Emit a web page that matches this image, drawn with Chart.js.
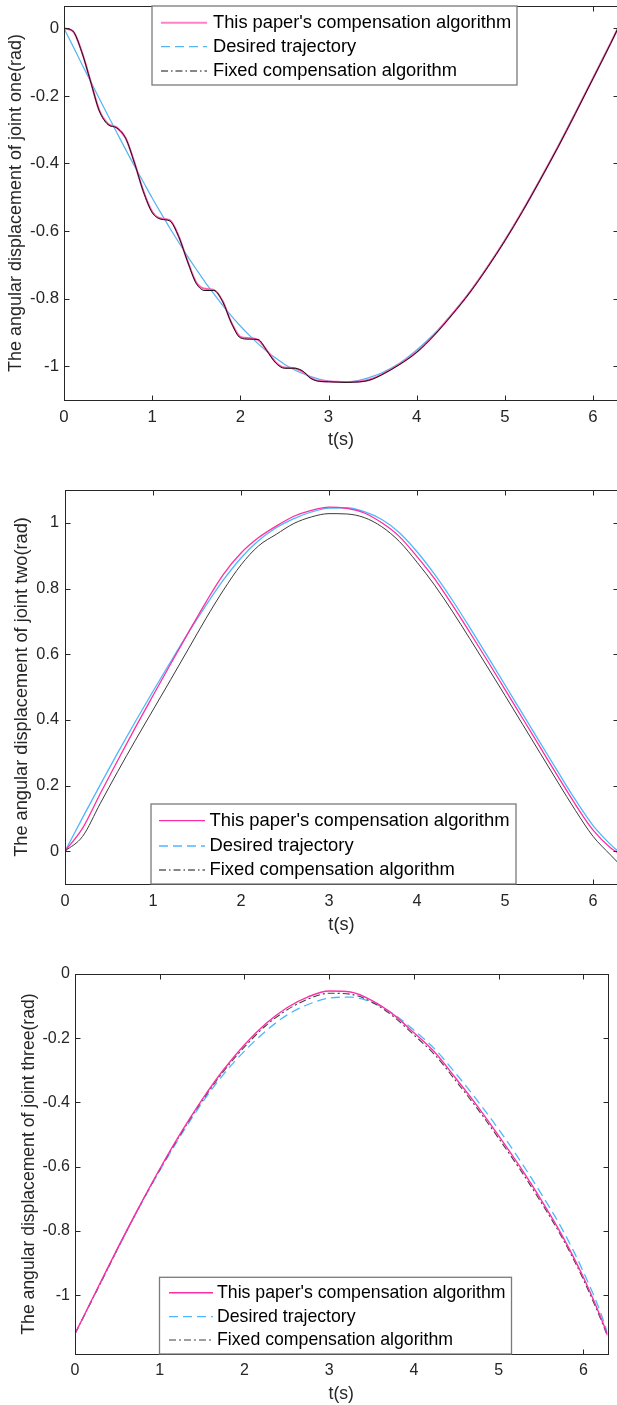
<!DOCTYPE html>
<html>
<head>
<meta charset="utf-8">
<script src="https://cdn.jsdelivr.net/npm/chart.js@4.4.1/dist/chart.umd.min.js"></script>
<style>
  html, body { margin: 0; padding: 0; background: #fff; overflow: hidden; }
  #wrap { position: relative; width: 617px; height: 1405px; overflow: hidden; }
  canvas { position: absolute; left: 0; }
</style>
</head>
<body>
<div id="wrap">
  <canvas id="c1" width="620" height="460" style="top:0px"></canvas>
  <canvas id="c2" width="620" height="470" style="top:470px"></canvas>
  <canvas id="c3" width="617" height="465" style="top:940px"></canvas>
</div>
<script>
// legend names
const seriesNames = ["This paper's compensation algorithm", 'Desired trajectory', 'Fixed compensation algorithm'];
const xTicks = [0, 1, 2, 3, 4, 5, 6];

// joint one
const t1 = [0, 0.1, 0.2, 0.3, 0.4, 0.5, 0.6, 0.7, 0.8, 0.9, 1.0, 1.1, 1.2, 1.3, 1.4, 1.5, 1.6, 1.7, 1.8, 1.9,
  2.0, 2.1, 2.2, 2.3, 2.4, 2.5, 2.6, 2.7, 2.8, 2.9, 3.0, 3.1, 3.2, 3.3, 3.4, 3.5, 3.6,
  3.8, 4.0, 4.2, 4.4, 4.6, 4.8, 5.0, 5.2, 5.4, 5.6, 5.8, 6.0, 6.2, 6.283];
const paper1 = [0, -0.008, -0.068, -0.155, -0.243, -0.283, -0.294, -0.325, -0.398, -0.482, -0.543, -0.563, -0.568, -0.615, -0.688, -0.752, -0.771, -0.774, -0.808, -0.872,
  -0.913, -0.917, -0.922, -0.953, -0.988, -1.004, -1.005, -1.015, -1.035, -1.044, -1.045, -1.046, -1.047, -1.046, -1.044, -1.037, -1.025,
  -0.995, -0.958, -0.907, -0.847, -0.782, -0.708, -0.628, -0.541, -0.448, -0.352, -0.251, -0.148, -0.044, 0];
const desired1 = [0, -0.052, -0.105, -0.156, -0.208, -0.259, -0.309, -0.359, -0.408, -0.455, -0.502, -0.547, -0.591, -0.633, -0.674, -0.713, -0.751, -0.786, -0.820, -0.852,
  -0.881, -0.908, -0.933, -0.956, -0.976, -0.994, -1.009, -1.021, -1.031, -1.039, -1.044, -1.047, -1.047, -1.044, -1.038, -1.030, -1.020,
  -0.992, -0.952, -0.904, -0.846, -0.781, -0.707, -0.627, -0.540, -0.447, -0.351, -0.250, -0.148, -0.044, 0];
const fixed1 = [0, -0.008, -0.069, -0.156, -0.244, -0.285, -0.295, -0.326, -0.399, -0.483, -0.545, -0.565, -0.570, -0.616, -0.689, -0.755, -0.776, -0.776, -0.809, -0.873,
  -0.916, -0.920, -0.921, -0.954, -0.990, -1.006, -1.006, -1.013, -1.036, -1.045, -1.046, -1.047, -1.048, -1.047, -1.045, -1.038, -1.026,
  -0.996, -0.959, -0.908, -0.848, -0.783, -0.709, -0.629, -0.542, -0.449, -0.353, -0.252, -0.149, -0.045, 0];
const yTicks1 = [0, -0.2, -0.4, -0.6, -0.8, -1];

// joint two
const t2 = [0, 0.2, 0.4, 0.6, 0.8, 1.0, 1.2, 1.4, 1.6, 1.8, 2.0, 2.2, 2.4, 2.6, 2.8, 3.0, 3.2, 3.4, 3.6, 3.8,
  4.0, 4.2, 4.4, 4.6, 4.8, 5.0, 5.2, 5.4, 5.6, 5.8, 6.0, 6.2, 6.283];
const paper2 = [0, 0.070, 0.175, 0.277, 0.377, 0.474, 0.570, 0.665, 0.758, 0.843, 0.908, 0.955, 0.990, 1.020, 1.038, 1.048, 1.044, 1.030, 1.000, 0.958,
  0.897, 0.829, 0.750, 0.666, 0.580, 0.492, 0.404, 0.316, 0.228, 0.142, 0.064, 0.010, -0.005];
const desired2 = [0, 0.102, 0.202, 0.300, 0.395, 0.487, 0.577, 0.665, 0.748, 0.826, 0.893, 0.946, 0.985, 1.013, 1.033, 1.045, 1.046, 1.034, 1.010, 0.970,
  0.912, 0.843, 0.765, 0.681, 0.594, 0.506, 0.418, 0.330, 0.242, 0.156, 0.078, 0.020, 0.000];
const fixed2 = [0, 0.045, 0.145, 0.243, 0.338, 0.430, 0.522, 0.615, 0.708, 0.795, 0.872, 0.930, 0.965, 0.998, 1.018, 1.028, 1.027, 1.016, 0.988, 0.943,
  0.880, 0.810, 0.731, 0.647, 0.561, 0.474, 0.386, 0.298, 0.210, 0.124, 0.045, -0.012, -0.035];
const yTicks2 = [0, 0.2, 0.4, 0.6, 0.8, 1];

// joint three
const t3 = [0, 0.25, 0.5, 0.75, 1.0, 1.25, 1.5, 1.75, 2.0, 2.25, 2.5, 2.75, 3.0, 3.25, 3.5, 3.75,
  4.0, 4.25, 4.5, 4.75, 5.0, 5.25, 5.5, 5.75, 6.0, 6.25, 6.283];
const paper3 = [-1.120, -0.987, -0.855, -0.728, -0.607, -0.494, -0.391, -0.299, -0.220, -0.155, -0.105, -0.071, -0.053, -0.056, -0.082, -0.125,
  -0.183, -0.245, -0.327, -0.412, -0.504, -0.600, -0.703, -0.815, -0.945, -1.100, -1.125];
const desired3 = [-1.120, -0.989, -0.858, -0.731, -0.612, -0.502, -0.401, -0.313, -0.240, -0.178, -0.128, -0.095, -0.075, -0.072, -0.088, -0.123,
  -0.175, -0.235, -0.312, -0.395, -0.484, -0.580, -0.684, -0.795, -0.928, -1.090, -1.120];
const fixed3 = [-1.120, -0.989, -0.857, -0.729, -0.609, -0.497, -0.395, -0.304, -0.227, -0.161, -0.112, -0.078, -0.060, -0.063, -0.087, -0.131,
  -0.190, -0.253, -0.335, -0.420, -0.512, -0.608, -0.711, -0.822, -0.952, -1.105, -1.128];
const yTicks3 = [0, -0.2, -0.4, -0.6, -0.8, -1];

Chart.defaults.font.family = "'Liberation Sans', Arial, sans-serif";
Chart.defaults.color = '#262626';

// box round the plot with inward ticks on all four sides
const boxTicks = {
  id: 'boxTicks',
  afterDatasetsDraw(chart) {
    const { ctx, chartArea: a, scales: { x, y } } = chart;
    const L = 5;
    const l = Math.round(a.left) + 0.5, r = Math.round(a.right) + 0.5;
    const tp = Math.round(a.top) + 0.5, b = Math.round(a.bottom) + 0.5;
    ctx.save();
    ctx.strokeStyle = '#262626';
    ctx.lineWidth = 1;
    ctx.beginPath();
    x.ticks.forEach(t => {
      const px = Math.round(x.getPixelForValue(t.value)) + 0.5;
      ctx.moveTo(px, b); ctx.lineTo(px, b - L);
      ctx.moveTo(px, tp); ctx.lineTo(px, tp + L);
    });
    y.ticks.forEach(t => {
      const py = Math.round(y.getPixelForValue(t.value)) + 0.5;
      ctx.moveTo(l, py); ctx.lineTo(l + L, py);
      ctx.moveTo(r, py); ctx.lineTo(r - L, py);
    });
    ctx.stroke();
    ctx.strokeRect(l, tp, r - l, b - tp);
    ctx.restore();
  }
};

// MATLAB-like legend box drawn inside the axes
const boxLegend = {
  id: 'boxLegend',
  afterDraw(chart, args, o) {
    if (!o || !o.box) return;
    const ctx = chart.ctx;
    ctx.save();
    ctx.fillStyle = '#fff';
    ctx.fillRect(o.box[0], o.box[1], o.box[2], o.box[3]);
    ctx.strokeStyle = '#7a7a7a';
    ctx.lineWidth = 1.3;
    ctx.strokeRect(o.box[0], o.box[1], o.box[2], o.box[3]);
    ctx.font = o.size + "px 'Liberation Sans', Arial, sans-serif";
    ctx.textBaseline = 'middle';
    ctx.textAlign = 'left';
    chart.data.datasets.forEach((ds, i) => {
      const y = o.rows[i];
      ctx.beginPath();
      ctx.strokeStyle = ds.legendColor || ds.borderColor;
      ctx.lineWidth = ds.legendWidth || ds.borderWidth;
      ctx.setLineDash(ds.legendDash || []);
      ctx.moveTo(o.line[0], y);
      ctx.lineTo(o.line[1], y);
      ctx.stroke();
      ctx.setLineDash([]);
      ctx.fillStyle = '#000';
      ctx.fillText(ds.label, o.textX, y);
    });
    ctx.restore();
  }
};

function makeChart(id, cfg) {
  const sets = cfg.series.map((vals, i) => Object.assign({
    label: seriesNames[i],
    data: cfg.t.map((t, k) => ({ x: t, y: vals[k] })),
    pointRadius: 0,
    fill: false,
    cubicInterpolationMode: 'monotone'
  }, cfg.styles[i]));

  return new Chart(document.getElementById(id), {
    type: 'line',
    data: { datasets: sets },
    plugins: [boxTicks, boxLegend],
    options: {
      responsive: false,
      animation: false,
      layout: { padding: cfg.pad },
      plugins: {
        legend: { display: false },
        tooltip: { enabled: false },
        boxLegend: cfg.legend
      },
      scales: {
        x: {
          type: 'linear',
          min: 0,
          max: 6.2832,
          grid: { display: false, drawTicks: false },
          border: { display: false },
          afterBuildTicks: s => { s.ticks = xTicks.map(v => ({ value: v })); },
          afterFit: s => { s.height = cfg.xH; s.paddingLeft = 0; s.paddingRight = 0; },
          ticks: { padding: cfg.xPad, maxRotation: 0, font: { size: cfg.tickSize }, callback: v => String(v) },
          title: { display: true, text: 't(s)', font: { size: cfg.titleSize }, padding: { top: 0, bottom: cfg.xTitlePad } }
        },
        y: {
          min: cfg.yMin,
          max: cfg.yMax,
          grid: { display: false, drawTicks: false },
          border: { display: false },
          afterBuildTicks: s => { s.ticks = cfg.yTicks.map(v => ({ value: v })); },
          afterFit: s => { s.width = cfg.yW; s.paddingTop = 0; s.paddingBottom = 0; },
          ticks: { padding: cfg.yPad, font: { size: cfg.tickSize }, callback: v => String(v) },
          title: { display: true, text: cfg.yTitle, font: { size: cfg.titleSize }, padding: { top: cfg.yTitlePad, bottom: 0 } }
        }
      }
    }
  });
}

makeChart('c1', {
  t: t1,
  series: [paper1, desired1, fixed1],
  styles: [
    { borderColor: '#ff5cad', borderWidth: 2, order: 1, legendColor: '#ff80c4' },
    { borderColor: '#56b4f0', borderWidth: 1.2, order: 2, legendDash: [9, 5] },
    { borderColor: '#111111', borderWidth: 1, order: 0, legendWidth: 1.2, legendDash: [7, 3, 1.5, 3] }
  ],
  pad: { top: 6, right: 2, left: 0, bottom: 0 },
  xH: 60, yW: 64, yMin: -1.1, yMax: 0.066, yTicks: yTicks1,
  tickSize: 16.8, titleSize: 18, xPad: 6.9, yPad: 5, xTitlePad: 9.2, yTitlePad: 5.2,
  yTitle: 'The angular displacement of joint one(rad)',
  legend: { box: [152, 6, 365, 79], line: [161, 207], textX: 213, rows: [22.7, 46.7, 71], size: 18.3 }
});

makeChart('c2', {
  t: t2,
  series: [paper2, desired2, fixed2],
  styles: [
    { borderColor: '#ff2ea0', borderWidth: 1.3, order: 1 },
    { borderColor: '#4fb6ff', borderWidth: 1.3, order: 2, legendDash: [9, 5] },
    { borderColor: '#3a3a3a', borderWidth: 1, order: 0, legendColor: '#111111', legendWidth: 1.2, legendDash: [7, 3, 1.5, 3] }
  ],
  pad: { top: 20, right: 2, left: 0, bottom: 0 },
  xH: 56, yW: 65, yMin: -0.1, yMax: 1.1, yTicks: yTicks2,
  tickSize: 16.3, titleSize: 18.2, xPad: 7.9, yPad: 6, xTitlePad: 3.7, yTitlePad: 11.2,
  yTitle: 'The angular displacement of joint two(rad)',
  legend: { box: [151, 334, 365, 80], line: [159, 205], textX: 209.5, rows: [350.7, 376, 400], size: 18.4 }
});

makeChart('c3', {
  t: t3,
  series: [paper3, desired3, fixed3],
  styles: [
    { borderColor: '#ff2fa8', borderWidth: 1.4, order: 0 },
    { borderColor: '#4db8ff', borderWidth: 1.3, order: 2, borderDash: [9, 5], legendDash: [9, 5] },
    { borderColor: '#404040', borderWidth: 1.1, order: 1, borderDash: [7, 3, 2, 3], legendColor: '#808080', legendWidth: 1.4, legendDash: [7, 3, 2, 3] }
  ],
  pad: { top: 34, right: 9.5, left: 0, bottom: 0 },
  xH: 51, yW: 75, yMin: -1.183, yMax: 0, yTicks: yTicks3,
  tickSize: 16, titleSize: 17.6, xPad: 6.7, yPad: 5, xTitlePad: 0.4, yTitlePad: 19,
  yTitle: 'The angular displacement of joint three(rad)',
  legend: { box: [159.5, 337.3, 352, 76.7], line: [169, 213], textX: 217, rows: [352.7, 376.7, 400], size: 17.7 }
});
</script>
</body>
</html>
